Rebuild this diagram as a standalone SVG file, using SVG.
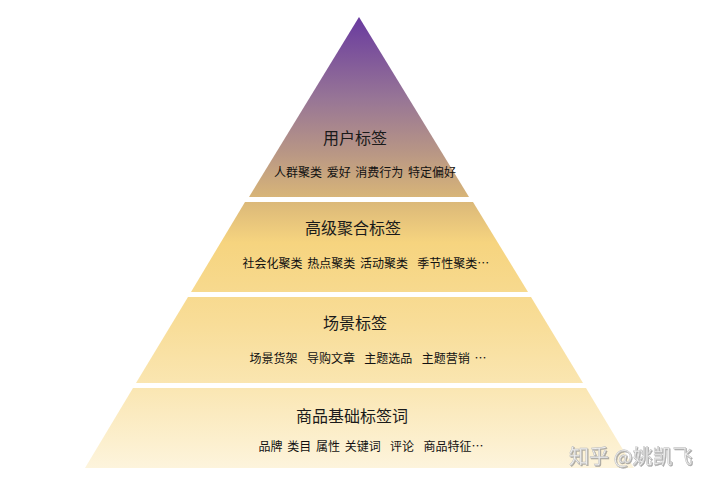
<svg xmlns="http://www.w3.org/2000/svg" width="720" height="486" viewBox="0 0 720 486">
<defs>
<linearGradient id="g" gradientUnits="userSpaceOnUse" x1="0" y1="17" x2="0" y2="468">
<stop offset="0" stop-color="#693a9f"/>
<stop offset="0.18" stop-color="#977596"/>
<stop offset="0.30" stop-color="#b89685"/>
<stop offset="0.40" stop-color="#d8b578"/>
<stop offset="0.50" stop-color="#f6d47f"/>
<stop offset="0.68" stop-color="#f8dd98"/>
<stop offset="0.82" stop-color="#fae6b2"/>
<stop offset="1" stop-color="#fdf4dc"/>
</linearGradient>
<filter id="sh" x="-10%" y="-30%" width="120%" height="160%">
<feDropShadow dx="1" dy="1" stdDeviation="0.6" flood-color="#888" flood-opacity="0.7"/>
</filter>
</defs>
<style>
.layer{fill:url(#g);}
.t{font-family:"Noto Sans CJK SC","Noto Sans",sans-serif;font-size:16px;fill:#1a1a1a;text-anchor:middle;dominant-baseline:central;}
.s{font-family:"Noto Sans CJK SC","Noto Sans",sans-serif;font-size:12px;fill:#111;text-anchor:middle;dominant-baseline:central;white-space:pre;word-spacing:2px;}
.wm{font-family:"Noto Sans CJK SC","Noto Sans",sans-serif;font-size:20px;fill:#efefef;stroke:#b8b8b8;stroke-width:0.4;}
</style>
<rect width="720" height="486" fill="#ffffff"/>
<g id="connectors"></g>
<g id="layer-user">
<polygon class="layer" points="359,17 469,197 249,197"/>
<text class="t" x="355" y="137">用户标签</text>
<text class="s" x="365" y="171" xml:space="preserve">人群聚类 爱好 消费行为 特定偏好</text>
</g>
<g id="layer-advanced">
<polygon class="layer" points="245,202 473,202 528,292 191,292"/>
<text class="t" x="353" y="227">高级聚合标签</text>
<text class="s" x="366" y="262" xml:space="preserve">社会化聚类 热点聚类 活动聚类  季节性聚类…</text>
</g>
<g id="layer-scene">
<polygon class="layer" points="188,297 531,297 583,383 136,383"/>
<text class="t" x="355" y="322">场景标签</text>
<text class="s" x="368" y="357" xml:space="preserve">场景货架  导购文章  主题选品  主题营销 …</text>
</g>
<g id="layer-base">
<polygon class="layer" points="133,388 586,388 634,468 85,468"/>
<text class="t" x="352" y="415">商品基础标签词</text>
<text class="s" x="371" y="445" xml:space="preserve">品牌 类目 属性 关键词  评论  商品特征…</text>
</g>
<text class="wm" x="569" y="464" filter="url(#sh)">知乎 @姚凯飞</text>
</svg>
